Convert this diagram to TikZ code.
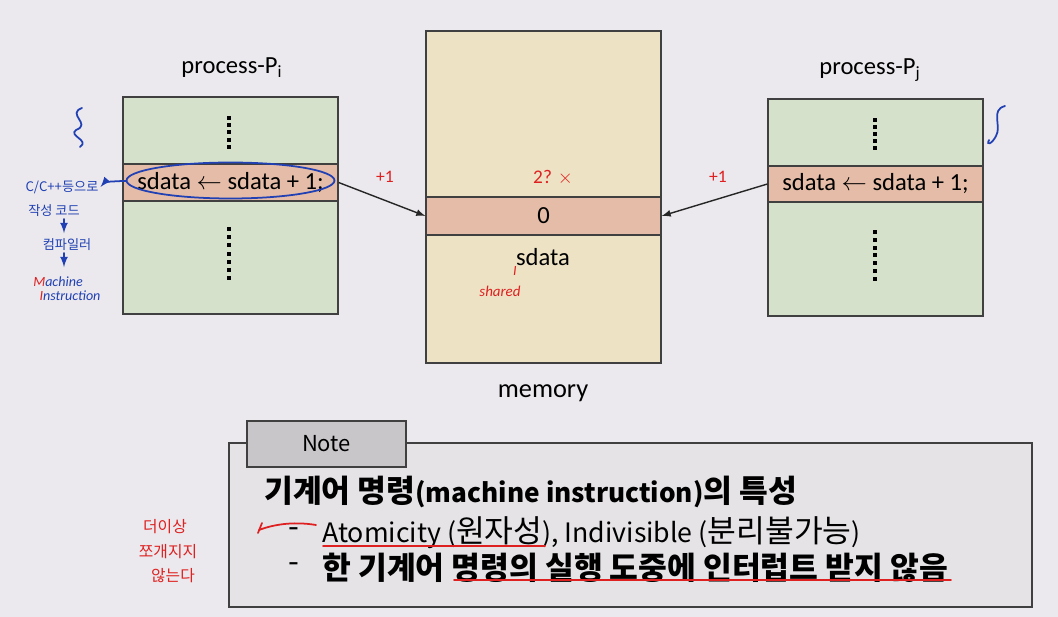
\documentclass[tikz,border=0pt]{standalone}
\usepackage{fontspec}
\setmainfont{Carlito}
\newfontfamily\krfont{Noto Sans CJK KR}
\newcommand{\latinpart}[2]{{\fontsize{#1}{18}\selectfont #2}}
\definecolor{bgcolor}{RGB}{235,233,237}
\definecolor{procgreen}{RGB}{214,225,204}
\definecolor{stmtpink}{RGB}{228,188,167}
\definecolor{memyellow}{RGB}{238,226,196}
\definecolor{notegray}{RGB}{229,227,230}
\definecolor{tabgray}{RGB}{200,198,201}
\definecolor{edgegray}{RGB}{64,64,64}
\definecolor{penred}{RGB}{222,32,32}
\definecolor{penblue}{RGB}{32,64,180}
\tikzset{
    box/.style={draw=edgegray, line width=0.7pt, inner sep=0pt},
    procbox/.style={box, fill=procgreen},
    stmtbox/.style={box, fill=stmtpink, font=\fontsize{14}{16}\selectfont},
    membox/.style={box, fill=memyellow},
    caption/.style={font=\fontsize{14}{16}\selectfont},
    flow/.style={-latex, line width=0.8pt, black!85},
    redpen/.style={penred, line width=1pt, line cap=round},
    bluepen/.style={penblue, line width=1pt, line cap=round},
    redtext/.style={text=penred, font=\krfont\fontsize{9}{10}\selectfont, inner sep=1pt},
    bluetext/.style={text=penblue, font=\krfont\fontsize{7.5}{8}\selectfont, inner sep=1pt},
    notetext/.style={anchor=west, inner sep=0pt, font=\krfont\fontsize{17.8}{18}\selectfont}
}
\begin{document}
\begin{tikzpicture}[x=0.02cm, y=-0.02cm]
    % Background
    \fill[bgcolor] (0,0) rectangle (1058,617);
    \useasboundingbox (0,0) rectangle (1058,617);

    % Process P_i
    \node[caption] (nameI) at (232,68) {process-P\textsubscript{i}};
    \node[procbox, minimum width=4.3cm, minimum height=4.34cm] (procI) at (230.5,205.5) {};
    \node[stmtbox, minimum width=4.3cm, minimum height=0.74cm] (stmtI) at (230.5,182.5) {sdata $\leftarrow$ sdata + 1;};
    \foreach \k in {0,...,4} {
        \fill (229,118+7.2*\k) ++(-2,-2) rectangle ++(4,4);
    }
    \foreach \k in {0,...,6} {
        \fill (229,229+8.2*\k) ++(-2,-2) rectangle ++(4,4);
    }

    % Memory
    \node[membox, minimum width=4.7cm, minimum height=6.64cm] (mem) at (543.5,197) {};
    \node[stmtbox, minimum width=4.7cm, minimum height=0.76cm] (cell) at (543.5,216) {0};
    \node[caption] (cellname) at (543,257) {sdata};
    \node[caption, font=\fontsize{15}{17}\selectfont] (memname) at (543,393) {memory};

    % Process P_j
    \node[caption] (nameJ) at (870,70) {process-P\textsubscript{j}};
    \node[procbox, minimum width=4.3cm, minimum height=4.34cm] (procJ) at (875.5,207.5) {};
    \node[stmtbox, minimum width=4.3cm, minimum height=0.72cm] (stmtJ) at (875.5,184) {sdata $\leftarrow$ sdata + 1;};
    \foreach \k in {0,...,4} {
        \fill (875,120+7*\k) ++(-2,-2) rectangle ++(4,4);
    }
    \foreach \k in {0,...,6} {
        \fill (875,232+7.8*\k) ++(-2,-2) rectangle ++(4,4);
    }

    % Writes to sdata
    \draw[flow] (stmtI.east) -- (cell.west);
    \draw[flow] (stmtJ.west) -- (cell.east);

    % Note
    \node[box, fill=notegray, line width=1pt, minimum width=16.06cm, minimum height=3.28cm] (note) at (630.5,525) {};
    \node[box, fill=tabgray, line width=1pt, minimum width=3.18cm, minimum height=0.92cm,
          font=\krfont\fontsize{12.5}{14}\selectfont] (tab) at (326.5,444) {Note};
    \node[notetext, font=\krfont\bfseries\fontsize{17.8}{18}\selectfont] (lineA) at (264,492) {기계어 명령\latinpart{14.9}{(machine instruction)}의 특성};
    \node[notetext] (dashB) at (288,533) {-};
    \node[notetext] (lineB) at (322,533) {\latinpart{15.2}{Atomicity (}원자성\latinpart{15.2}{), Indivisible (}분리불가능\latinpart{15.2}{)}};
    \node[notetext] (dashC) at (288,568) {-};
    \node[notetext, font=\krfont\bfseries\fontsize{17.8}{18}\selectfont] (lineC) at (322,568) {한 기계어 명령의 실행 도중에 인터럽트 받지 않음};

    % Red pen
    \node[redtext, font=\fontsize{10}{11}\selectfont] (plusI) at (385,177) {+1};
    \node[redtext, font=\fontsize{10}{11}\selectfont] (plusJ) at (718,177) {+1};
    \node[redtext, font=\fontsize{11}{12}\selectfont] (guess) at (553,178) {2? $\times$};
    \node[redtext, font=\itshape\fontsize{8}{9}\selectfont] (mark) at (515,271) {I};
    \node[redtext, font=\itshape\fontsize{8.5}{9}\selectfont] (shared) at (500,291) {shared};
    \draw[redpen] (323,546) -- (545,546);
    \draw[redpen] (454,580) -- (951,580);
    \draw[redpen] (316,525) .. controls (292,521) and (272,525) .. (259,530);
    \draw[redpen] (262,523) -- (258,533);
    \node[redtext] (noteA) at (165,527) {더이상};
    \node[redtext] (noteB) at (168,552) {쪼개지지};
    \node[redtext] (noteC) at (173,576) {않는다};

    % Blue pen
    \draw[bluepen] (stmtI.center) ++(0,-2) ellipse [x radius=2.08cm, y radius=0.36cm];
    \draw[bluepen] (82,108) .. controls (66,114) and (92,124) .. (76,130) .. controls (68,136) and (90,140) .. (80,147);
    \draw[bluepen] (1005,106) .. controls (990,110) and (1002,126) .. (996,136) .. controls (992,144) and (986,146) .. (989,140);
    \node[bluetext] (srcA) at (62,187) {C/C++등으로};
    \node[bluetext] (srcB) at (54,211) {작성 코드};
    \node[bluetext] (comp) at (67,245) {컴파일러};
    \node[bluetext, font=\itshape\fontsize{8}{9}\selectfont] (machA) at (58,282) {\textcolor{penred}{M}achine};
    \node[bluetext, font=\itshape\fontsize{8}{9}\selectfont] (machB) at (70,296) {\textcolor{penred}{I}nstruction};
    \draw[bluepen, -latex] (126,181) .. controls (112,181) and (104,183) .. (srcA.east);
    \draw[bluepen, -latex] (srcB.south -| comp.north) ++(-3,0) -- ++(0,14);
    \draw[bluepen, -latex] (comp.south) ++(-3,0) -- ++(0,14);
\end{tikzpicture}
\end{document}
